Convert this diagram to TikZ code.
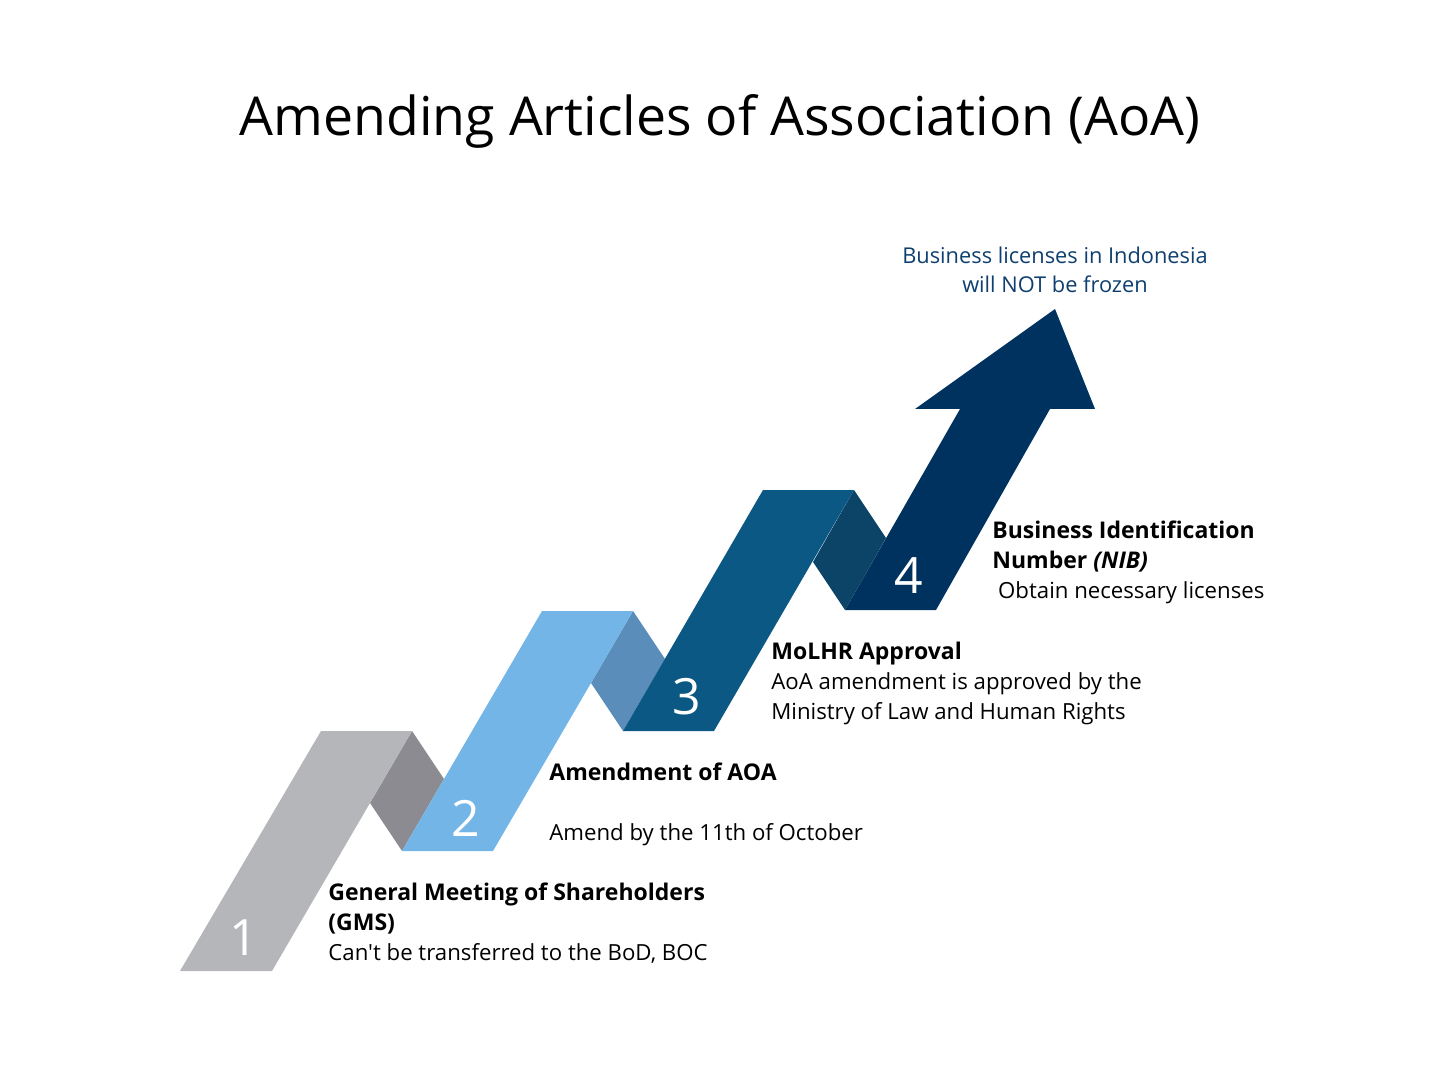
\documentclass[tikz,border=0pt]{standalone}
\usepackage{fontspec}
\setmainfont{Open Sans}
\newfontfamily\rawsans{Open Sans}
\usetikzlibrary{positioning}
\definecolor{stepgray}{HTML}{B5B6BA}
\definecolor{foldgray}{HTML}{8C8B91}
\definecolor{steplight}{HTML}{74B5E8}
\definecolor{foldlight}{HTML}{5A8DB9}
\definecolor{stepmid}{HTML}{0A5883}
\definecolor{foldmid}{HTML}{0B4466}
\definecolor{stepnavy}{HTML}{003260}
\definecolor{goalblue}{HTML}{0F3F6E}
\newcommand{\stephead}{\fontsize{11.5}{15}\selectfont\bfseries}

\begin{document}
\begin{tikzpicture}[x=0.5pt, y=-0.5pt,
    snum/.style={font=\fontsize{25}{25}\selectfont, text=white, inner sep=0pt},
    blurb/.style={font=\fontsize{11.1}{15}\selectfont, align=left, inner sep=0pt},
    goal/.style={font=\fontsize{10.9}{14.5}\selectfont, text=goalblue, align=center, inner sep=0pt},
  ]
  \useasboundingbox (0,0) rectangle (1440,1080);
  % title
  \node[font=\fontsize{26.8}{26.8}\selectfont, anchor=base] (title) at (720,136)
    {Amending Articles of Association (AoA)};
  % folds between the bands
  \fill[foldgray] (412,731) -- (444,779) -- (402,851) -- (370,803) -- cycle;
  \fill[foldlight] (633,611) -- (665,659) -- (623,731) -- (591,683) -- cycle;
  \fill[foldmid] (854,490) -- (886,538) -- (845,610) -- (813,562) -- cycle;
  % the bands
  \fill[stepgray] (180,971) -- (272,971) -- (412,731) -- (321,731) -- cycle;
  \fill[steplight] (402,851) -- (493,851) -- (633,611) -- (542,611) -- cycle;
  \fill[stepmid] (623,731) -- (714,731) -- (854,490) -- (763,490) -- cycle;
  \fill[stepnavy] (845,610) -- (936,610) -- (1050,409) -- (1095,409) -- (1055,309)
    -- (915,409) -- (960,409) -- cycle;
  % step numbers
  \node[snum] (n1) at (244,938) {1};
  \node[snum] (n2) at (466,818) {2};
  \node[snum] (n3) at (687,697) {3};
  \node[snum] (n4) at (909,576) {4};
  % texts (base = last line)
  \node[goal, anchor=base] (frozen) at (1055,293)
    {Business licenses in Indonesia\\will NOT be frozen};
  \node[blurb, anchor=base west] (gms) at (328,960)
    {{\stephead General Meeting of Shareholders}\\{\stephead (GMS)}\\
     {\rawsans Can't} be transferred to the BoD, BOC};
  \node[blurb, anchor=base west] (aoa) at (549,840)
    {{\stephead Amendment of AOA}\\[15pt]
     Amend by the 11th of October};
  \node[blurb, anchor=base west] (molhr) at (771,719)
    {{\stephead MoLHR Approval}\\AoA amendment is approved by the\\
     Ministry of Law and Human Rights};
  \node[blurb, anchor=base west] (nib) at (992,598)
    {{\stephead Business Identification}\\{\stephead Number \textit{(NIB)}}\\
     \ Obtain necessary licenses};
\end{tikzpicture}
\end{document}
